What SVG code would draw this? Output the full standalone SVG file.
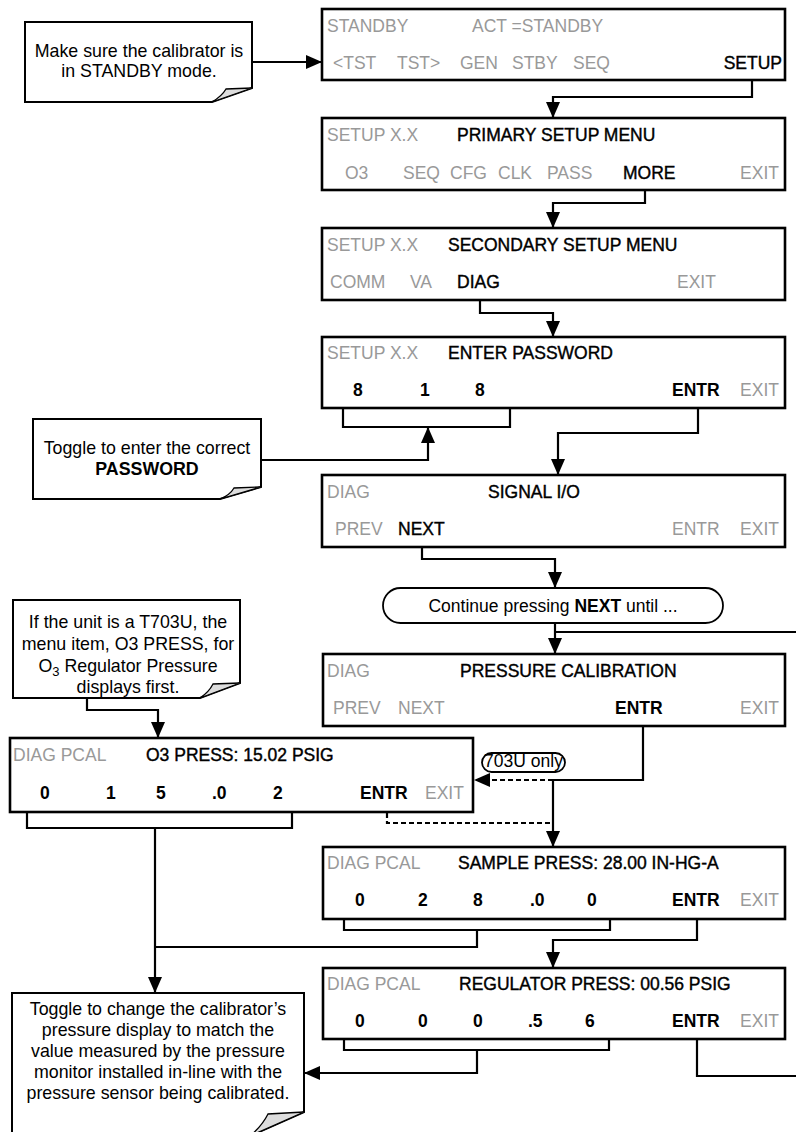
<svg xmlns="http://www.w3.org/2000/svg" width="796" height="1132" viewBox="0 0 796 1132">
<style>
text{font-family:"Liberation Sans",Arial,sans-serif;font-size:17.5px}
.g{fill:#999}
.k{fill:#000;stroke:#000;stroke-width:0.4}
.b{fill:#000;font-weight:bold}
.e{text-anchor:end}
.box{fill:#fff;stroke:#000;stroke-width:2.6}
.note{fill:#fff;stroke:#000;stroke-width:2}
.fold{fill:#ddd;stroke:#000;stroke-width:1.3}
.nt{font-size:17.8px;fill:#000;text-anchor:middle}
.conn{fill:none;stroke:#000;stroke-width:2.2}
.arr{marker-end:url(#ah)}
.dash{fill:none;stroke:#000;stroke-width:2.2;stroke-dasharray:5 3}
.pill{fill:#fff;stroke:#000;stroke-width:1.8}
</style>
<defs>
<marker id="ah" markerUnits="userSpaceOnUse" markerWidth="16" markerHeight="14" refX="16" refY="7" orient="auto">
<path d="M0,0 L16,7 L0,14 Z" fill="#000"/>
</marker>
</defs>
<rect width="796" height="1132" fill="#fff"/>

<g id="connectors">
<path class="conn arr" d="M252,62 H322"/>
<path class="conn arr" d="M752,74 V97 H553 V118"/>
<path class="conn arr" d="M645,188 V203 H553 V228"/>
<path class="conn arr" d="M480,294 V313 H553 V337"/>
<path class="conn" d="M343,392 V427 H510 V392"/>
<path class="conn arr" d="M262,460 H428 V427"/>
<path class="conn arr" d="M698,403 V433 H558 V475"/>
<path class="conn arr" d="M422,540 V559 H555 V588"/>
<path class="conn arr" d="M555,623 V654"/>
<path class="conn" d="M697,1037 V1076 H820 V632 H555"/>
<path class="conn arr" d="M643,720 V780 H553 V847"/>
<path class="dash arr" d="M553,780 H474"/>
<path class="dash" d="M387,813 V823 H553"/>
<path class="conn arr" d="M87,690 V710 H158 V738"/>
<path class="conn" d="M27,795 V828 H292 V795"/>
<path class="conn arr" d="M155,828 V993"/>
<path class="conn" d="M344,893 V930 H610 V893"/>
<path class="conn" d="M477,930 V947 H155"/>
<path class="conn arr" d="M697,911 V940 H553 V968"/>
<path class="conn" d="M344,1015 V1050 H609 V1015"/>
<path class="conn arr" d="M477,1050 V1073 H304"/>
</g>

<g id="note-standby">
<path class="note" d="M25,22 H252 V88 L212,102 H25 Z"/>
<path class="fold" d="M252,88 L226,89 Q222,96 212,102 Z"/>
<text class="nt" x="139" y="57">Make sure the calibrator is</text>
<text class="nt" x="139" y="77">in STANDBY mode.</text>
</g>

<g id="box-standby">
<rect class="box" x="322" y="9" width="463" height="71"/>
<text class="g" x="327" y="32">STANDBY</text>
<text class="g" x="472" y="32">ACT =STANDBY</text>
<text class="g" x="333" y="69">&lt;TST</text>
<text class="g" x="397" y="69">TST&gt;</text>
<text class="g" x="460" y="69">GEN</text>
<text class="g" x="512" y="69">STBY</text>
<text class="g" x="573" y="69">SEQ</text>
<text class="k e" x="782" y="69">SETUP</text>
</g>

<g id="box-primary">
<rect class="box" x="322" y="118" width="463" height="72"/>
<text class="g" x="327" y="141">SETUP X.X</text>
<text class="k" x="457" y="141">PRIMARY SETUP MENU</text>
<text class="g" x="345" y="179">O3</text>
<text class="g" x="403" y="179">SEQ</text>
<text class="g" x="450" y="179">CFG</text>
<text class="g" x="498" y="179">CLK</text>
<text class="g" x="547" y="179">PASS</text>
<text class="k" x="623" y="179">MORE</text>
<text class="g e" x="779" y="179">EXIT</text>
</g>

<g id="box-secondary">
<rect class="box" x="322" y="228" width="463" height="72"/>
<text class="g" x="327" y="251">SETUP X.X</text>
<text class="k" x="448" y="251">SECONDARY SETUP MENU</text>
<text class="g" x="330" y="288">COMM</text>
<text class="g" x="410" y="288">VA</text>
<text class="k" x="457" y="288">DIAG</text>
<text class="g" x="677" y="288">EXIT</text>
</g>

<g id="box-password">
<rect class="box" x="322" y="337" width="463" height="71"/>
<text class="g" x="327" y="359">SETUP X.X</text>
<text class="k" x="448" y="359">ENTER PASSWORD</text>
<text class="b" x="353" y="396">8</text>
<text class="b" x="420" y="396">1</text>
<text class="b" x="475" y="396">8</text>
<text class="b" x="672" y="396">ENTR</text>
<text class="g e" x="779" y="396">EXIT</text>
</g>

<g id="note-password">
<path class="note" d="M33,419 H261 V487 L220,499 H33 Z"/>
<path class="fold" d="M261,487 L234,488 Q230,495 220,499 Z"/>
<text class="nt" x="147" y="454">Toggle to enter the correct</text>
<text class="nt" x="147" y="475" font-weight="bold">PASSWORD</text>
</g>

<g id="box-signal">
<rect class="box" x="322" y="475" width="463" height="72"/>
<text class="g" x="327" y="498">DIAG</text>
<text class="k" x="488" y="498">SIGNAL I/O</text>
<text class="g" x="335" y="535">PREV</text>
<text class="k" x="398" y="535">NEXT</text>
<text class="g" x="672" y="535">ENTR</text>
<text class="g e" x="779" y="535">EXIT</text>
</g>

<g id="continue">
<rect class="pill" x="383" y="588" width="340" height="35" rx="17.5"/>
<text x="553" y="612" text-anchor="middle" font-size="17px" fill="#000">Continue pressing <tspan font-weight="bold">NEXT</tspan>  until ...</text>
</g>

<g id="box-pcal">
<rect class="box" x="323" y="654" width="462" height="72"/>
<text class="g" x="327" y="677">DIAG</text>
<text class="k" x="460" y="677">PRESSURE CALIBRATION</text>
<text class="g" x="333" y="714">PREV</text>
<text class="g" x="398" y="714">NEXT</text>
<text class="b" x="615" y="714">ENTR</text>
<text class="g e" x="779" y="714">EXIT</text>
</g>

<g id="pill-703u">
<rect class="pill" x="482" y="753" width="83" height="19" rx="9.5"/>
<text x="523.5" y="767" text-anchor="middle" font-size="12.5px" fill="#000">703U only</text>
</g>

<g id="note-t703u">
<path class="note" d="M13,600 H240 V683 L200,698 H13 Z"/>
<path class="fold" d="M240,683 L213,684 Q209,692 200,698 Z"/>
<text class="nt" x="128" y="628" font-size="19px">If the unit is a T703U, the</text>
<text class="nt" x="128" y="650" font-size="19px">menu item, O3 PRESS, for</text>
<text class="nt" x="128" y="672" font-size="19px">O<tspan font-size="13px" dy="4">3</tspan><tspan dy="-4"> Regulator Pressure</tspan></text>
<text class="nt" x="128" y="693" font-size="19px">displays first.</text>
</g>

<g id="box-o3press">
<rect class="box" x="10" y="738" width="463" height="74"/>
<text class="g" x="13" y="761">DIAG PCAL</text>
<text class="k" x="146" y="761">O3 PRESS: 15.02 PSIG</text>
<text class="b" x="40" y="799">0</text>
<text class="b" x="106" y="799">1</text>
<text class="b" x="156" y="799">5</text>
<text class="b" x="212" y="799">.0</text>
<text class="b" x="273" y="799">2</text>
<text class="b" x="360" y="799">ENTR</text>
<text class="g" x="425" y="799">EXIT</text>
</g>

<g id="box-sample">
<rect class="box" x="323" y="847" width="462" height="72"/>
<text class="g" x="327" y="869">DIAG PCAL</text>
<text class="k" x="458" y="869">SAMPLE PRESS: 28.00 IN-HG-A</text>
<text class="b" x="355" y="906">0</text>
<text class="b" x="418" y="906">2</text>
<text class="b" x="473" y="906">8</text>
<text class="b" x="530" y="906">.0</text>
<text class="b" x="587" y="906">0</text>
<text class="b" x="672" y="906">ENTR</text>
<text class="g e" x="779" y="906">EXIT</text>
</g>

<g id="box-regulator">
<rect class="box" x="323" y="968" width="462" height="71"/>
<text class="g" x="327" y="990">DIAG PCAL</text>
<text class="k" x="459" y="990">REGULATOR PRESS: 00.56 PSIG</text>
<text class="b" x="355" y="1027">0</text>
<text class="b" x="418" y="1027">0</text>
<text class="b" x="473" y="1027">0</text>
<text class="b" x="528" y="1027">.5</text>
<text class="b" x="585" y="1027">6</text>
<text class="b" x="672" y="1027">ENTR</text>
<text class="g e" x="779" y="1027">EXIT</text>
</g>

<g id="note-toggle">
<path class="note" d="M12,993 H304 V1112 L250,1136 H12 Z"/>
<path class="fold" d="M304,1112 L268,1114 Q262,1126 250,1136 Z"/>
<text class="nt" x="158" y="1015">Toggle to change the calibrator’s</text>
<text class="nt" x="158" y="1036">pressure display to match the</text>
<text class="nt" x="158" y="1057">value measured by the pressure</text>
<text class="nt" x="158" y="1078">monitor installed in-line with the</text>
<text class="nt" x="158" y="1099">pressure sensor being calibrated.</text>
</g>
</svg>
